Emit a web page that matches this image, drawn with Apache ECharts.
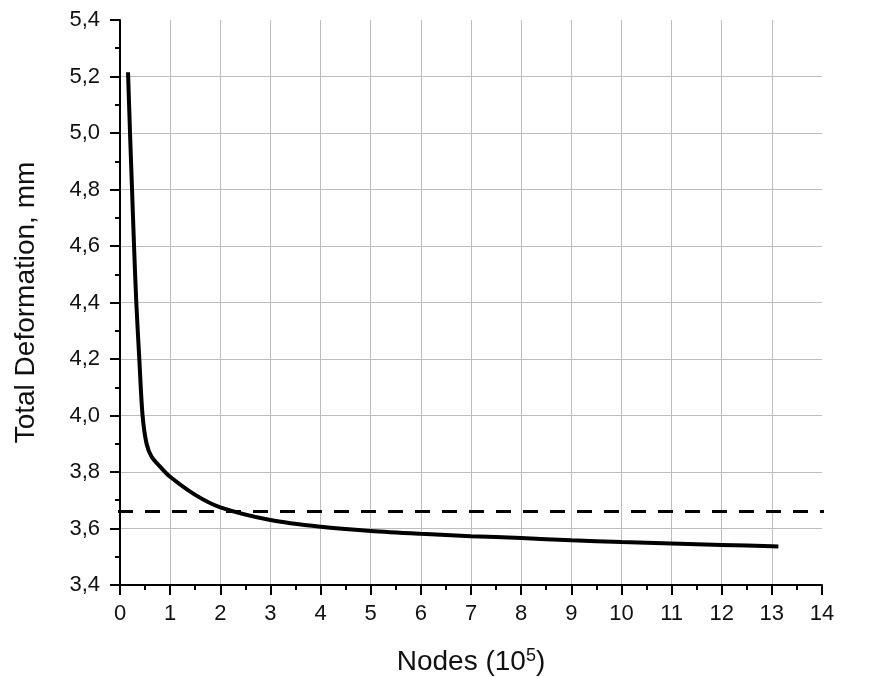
<!DOCTYPE html>
<html>
<head>
<meta charset="utf-8">
<script src="https://cdn.jsdelivr.net/npm/echarts@6/dist/echarts.min.js"></script>
<style>
  html, body { margin: 0; padding: 0; background: #fff; }
  #main { width: 869px; height: 677px; }
</style>
</head>
<body>
<div id="main"></div>
<script>
// curve (nodes in 10^5, deformation in mm)
const nodes = [0.16, 0.2, 0.24, 0.28, 0.325, 0.385, 0.45, 0.53, 0.63, 0.8, 1.0, 1.5, 2, 3, 4, 5, 6, 7, 8, 9, 10, 11, 12, 13, 13.13];
const deformation = [5.215, 5.0, 4.8, 4.6, 4.4, 4.2, 4.0, 3.9, 3.854, 3.819, 3.783, 3.719, 3.675, 3.63, 3.606, 3.591, 3.581, 3.573, 3.566, 3.558, 3.552, 3.547, 3.542, 3.537, 3.536];

// horizontal dashed reference level, running past the plot on both sides
const refLevel = 3.66;
const refSpan = [-0.04, 14.72];

const font = 'Arial, "Liberation Sans", sans-serif';
const gridGray = "#bdbdbd";

// split line colours cycle per tick; last one (the max line) is left out
function splitColors(count) {
  const colors = [];
  for (let i = 0; i < count - 1; i++) colors.push(gridGray);
  colors.push("rgba(0,0,0,0)");
  return colors;
}

function buildOption() {
  const curve = nodes.map((x, i) => [x, deformation[i]]);
  const ref = refSpan.map((x) => [x, refLevel]);
  return {
    animation: false,
    backgroundColor: "#fff",
    grid: { left: 120, right: 47, top: 20, bottom: 92, outerBoundsMode: "none" },
    xAxis: {
      type: "value",
      min: 0,
      max: 14,
      interval: 1,
      name: "Nodes (10{sup|5})",
      nameLocation: "middle",
      nameGap: 62,
      nameTextStyle: {
        fontFamily: font,
        fontSize: 28,
        color: "#111",
        rich: {
          sup: { fontFamily: font, fontSize: 18, color: "#111", verticalAlign: "top", padding: [0, 0, 12, 0] },
        },
      },
      axisLine: { onZero: false, lineStyle: { color: "#000", width: 2 } },
      axisTick: { show: true, inside: false, length: 10, lineStyle: { color: "#000", width: 2 } },
      minorTick: { show: true, splitNumber: 2, length: 5, lineStyle: { color: "#000", width: 2 } },
      axisLabel: { fontFamily: font, fontSize: 22, color: "#111", margin: 18 },
      splitLine: { show: true, showMaxLine: false, lineStyle: { color: splitColors(15), width: 1 } },
    },
    yAxis: {
      type: "value",
      min: 3.4,
      max: 5.4,
      interval: 0.2,
      name: "Total Deformation, mm",
      nameLocation: "middle",
      nameGap: 80,
      nameTextStyle: { fontFamily: font, fontSize: 28, color: "#111" },
      axisLine: { show: true, onZero: false, lineStyle: { color: "#000", width: 2 } },
      axisTick: { show: true, inside: false, length: 10, lineStyle: { color: "#000", width: 2 } },
      minorTick: { show: true, splitNumber: 2, length: 5, lineStyle: { color: "#000", width: 2 } },
      axisLabel: {
        fontFamily: font,
        fontSize: 22,
        color: "#111",
        margin: 20,
        formatter: (v) => v.toFixed(1).replace(".", ","),
      },
      splitLine: { show: true, showMaxLine: false, lineStyle: { color: splitColors(11), width: 1 } },
    },
    series: [
      {
        type: "line",
        data: ref,
        clip: false,
        showSymbol: false,
        silent: true,
        lineStyle: { color: "#000", width: 3, type: [15, 12] },
      },
      {
        type: "line",
        data: curve,
        smooth: 0.3,
        showSymbol: false,
        lineStyle: { color: "#000", width: 4 },
      },
    ],
  };
}

function onLoad() {
  const chart = echarts.init(document.getElementById("main"));
  chart.setOption(buildOption());
}

addEventListener("load", onLoad);
</script>
</body>
</html>
